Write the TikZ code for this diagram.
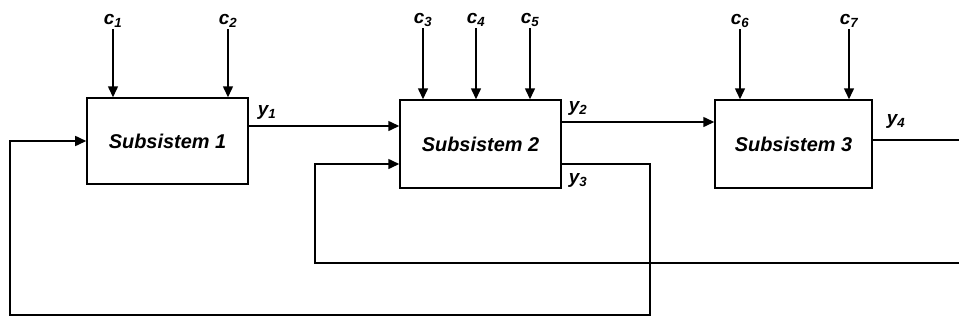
\documentclass[tikz,border=0pt]{standalone}
\usepackage{fontspec}
\setmainfont{Liberation Sans}
\usetikzlibrary{arrows.meta}
\begin{document}
\begin{tikzpicture}[x=1bp,y=-1bp,
  box/.style={draw,line width=1.5bp,minimum width=161bp,minimum height=86bp,inner sep=0pt,font=\fontsize{20}{20}\selectfont\bfseries\itshape},
  lab/.style={inner sep=1pt,font=\fontsize{19}{19}\selectfont\bfseries\itshape},
  wire/.style={line width=1.5bp},
  arr/.style={wire,-{Triangle[length=11bp,width=10bp]}}]
\useasboundingbox (0,0) rectangle (959,320);
\node[box] (s1) at (167.5,141) {Subsistem 1};
\node[box,minimum height=88bp] (s2) at (480.5,144) {Subsistem 2};
\node[box,minimum width=157bp,minimum height=88bp] (s3) at (793.5,144) {Subsistem 3};
% inputs
\node[lab] (c1) at (113,21) {c\textsubscript{1}};
\node[lab] (c2) at (228,21) {c\textsubscript{2}};
\node[lab] (c3) at (423,20) {c\textsubscript{3}};
\node[lab] (c4) at (476,20) {c\textsubscript{4}};
\node[lab] (c5) at (530,20) {c\textsubscript{5}};
\node[lab] (c6) at (740,21) {c\textsubscript{6}};
\node[lab] (c7) at (849,21) {c\textsubscript{7}};
\foreach \c/\s in {c1/s1,c2/s1,c3/s2,c4/s2,c5/s2,c6/s3,c7/s3}
  \draw[arr] (\c) -- (\c |- \s.north);
% output labels
\node[lab] (y1) at (267,112) {y\textsubscript{1}};
\node[lab] (y2) at (578,108) {y\textsubscript{2}};
\node[lab] (y3) at (578,180) {y\textsubscript{3}};
\node[lab] (y4) at (896,121) {y\textsubscript{4}};
% coordinates for routing
\coordinate (r3) at (650,164);
\coordinate (b3) at (650,315);
\coordinate (bl) at (10,315);
\coordinate (tl) at (10,141);
\coordinate (fbin) at (959,263);
\coordinate (fbl) at (315,263);
\coordinate (fbt) at (315,164);
\coordinate (y4end) at (959,140);
% connectors
\draw[arr] (s1.east |- 0,126) -- (s2.west |- 0,126);
\draw[arr] (s2.east |- 0,122) -- (s3.west |- 0,122);
\draw[arr] (s2.east |- 0,164) -- (r3) -- (b3) -- (bl) -- (tl) -- (s1.west |- tl);
\draw[arr] (fbin) -- (fbl) -- (fbt) -- (s2.west |- fbt);
\draw[wire] (s3.east |- y4end) -- (y4end);
\end{tikzpicture}
\end{document}
